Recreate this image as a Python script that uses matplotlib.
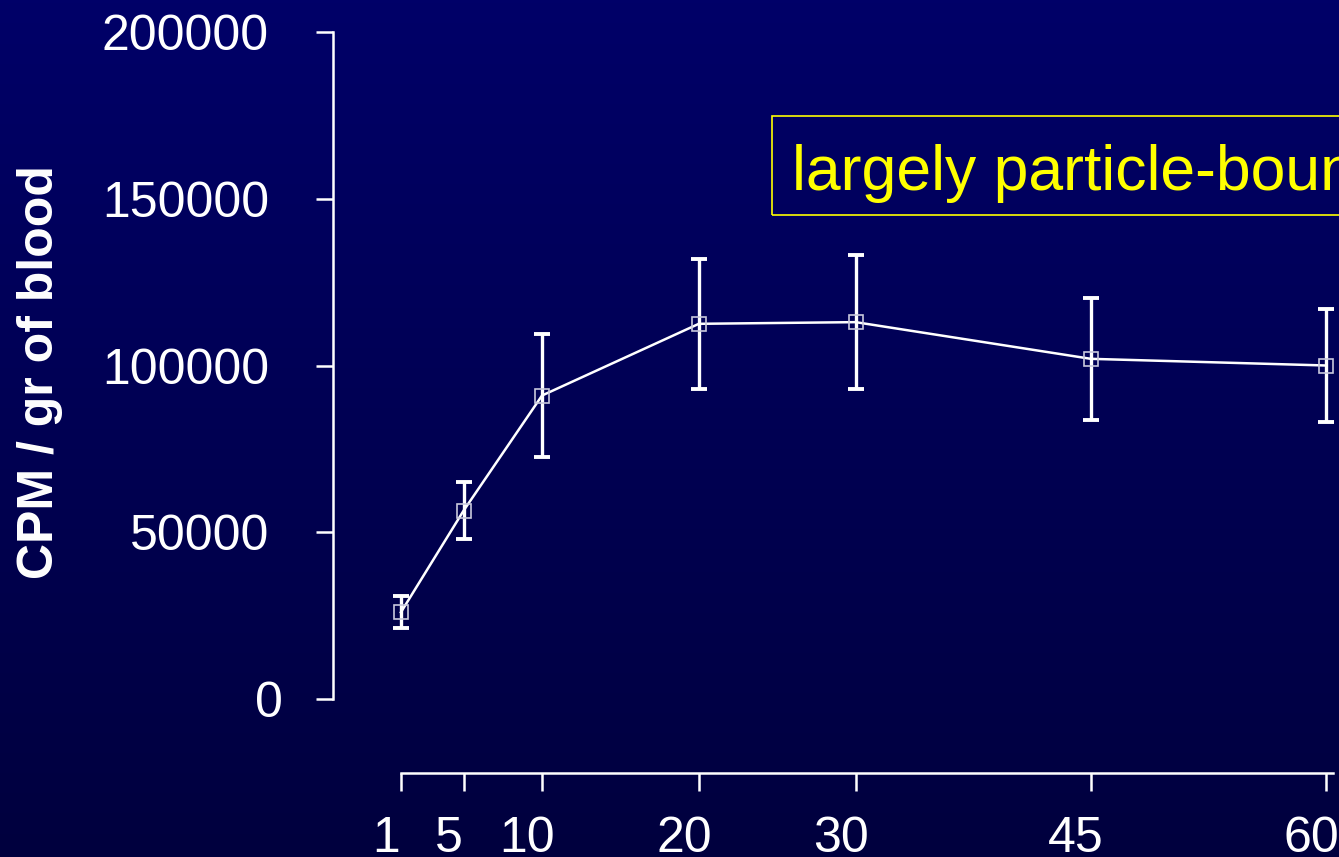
import numpy as np
import matplotlib
matplotlib.use("Agg")
import matplotlib.pyplot as plt
import matplotlib.transforms as mtransforms
from matplotlib.colors import LinearSegmentedColormap
from matplotlib.patches import Rectangle

plt.rcParams["font.family"] = ["Liberation Sans", "DejaVu Sans"]

# sampling times (min) and blood activity
time_min = [1, 5, 10, 20, 30, 45, 60]
cpm_per_g = [26000, 56500, 91000, 112500, 113000, 102000, 100000]
cpm_err = [4800, 8500, 18500, 19500, 20000, 18300, 16800]
y_ticks = [0, 50000, 100000, 150000, 200000]

W, H, DPI = 1339, 857, 100
fig = plt.figure(figsize=(W / DPI, H / DPI), dpi=DPI)

# navy slide background, lighter at the top
bg = fig.add_axes([0, 0, 1, 1], zorder=-10)
bg_cmap = LinearSegmentedColormap.from_list("slide", ["#00003e", "#000068"])
grad = np.linspace(0, 1, 256).reshape(-1, 1)
bg.imshow(grad, aspect="auto", cmap=bg_cmap, origin="lower", extent=[0, 1, 0, 1])
bg.set_axis_off()

ax = fig.add_axes([333 / W, (H - 773) / H, (W - 333) / W, 773 / H])
ax.set_facecolor("none")

ax.errorbar(time_min, cpm_per_g, yerr=cpm_err, fmt="none", ecolor="white",
            elinewidth=2.4, capsize=5.5, capthick=2.8, zorder=3)
ax.plot(time_min, cpm_per_g, color="white", lw=1.8, zorder=2)
ax.plot(time_min, cpm_per_g, ls="none", marker="s", ms=10, mfc="none",
        mec="#c8c8dc", mew=1.2, zorder=4)

px = 15.7  # pixels per minute on the x axis
ax.set_xlim(1 - (401 - 333) / px, 60 + (1339 - 1326) / px)
ax.set_ylim((699 - 773) / 3.335 * 1000, 699 / 3.335 * 1000)

for side in ["top", "right"]:
    ax.spines[side].set_visible(False)
ax.spines["left"].set_bounds(0, 200000)
ax.spines["bottom"].set_bounds(1, 60.45)
for side in ["left", "bottom"]:
    ax.spines[side].set_color("white")
    ax.spines[side].set_linewidth(1.8)

ax.set_xticks(time_min)
ax.set_xticklabels([str(t) for t in time_min])
ax.set_yticks(y_ticks)
ax.set_yticklabels([str(v) for v in y_ticks])
ax.tick_params(axis="y", colors="white", length=12, width=1.8, pad=34, labelsize=36)
ax.tick_params(axis="x", colors="white", length=13, width=1.8, pad=18, labelsize=36)

# hand-placed label offsets
shift_x = mtransforms.ScaledTranslation(-15 / DPI, 0, fig.dpi_scale_trans)
for lab in ax.get_xticklabels():
    lab.set_transform(lab.get_transform() + shift_x)
zero_lab = ax.get_yticklabels()[0]
zero_lab.set_transform(zero_lab.get_transform()
                       + mtransforms.ScaledTranslation(14 / DPI, 0, fig.dpi_scale_trans))

fig.text(40 / W, 1 - 372 / H, "CPM / gr of blood", rotation=90, color="white",
         fontsize=36, fontweight="bold", ha="center", va="center")

# annotation box, runs off the right edge
fig.patches.append(Rectangle((772 / W, 1 - 215 / H), (W - 772 + 20) / W, 99 / H,
                             transform=fig.transFigure, fill=False,
                             edgecolor="#ffff00", lw=1.2))
fig.text(792 / W, 1 - 190 / H, "largely particle-bound", color="#ffff00",
         fontsize=45, ha="left", va="baseline")

fig.savefig("out.png", dpi=DPI)
